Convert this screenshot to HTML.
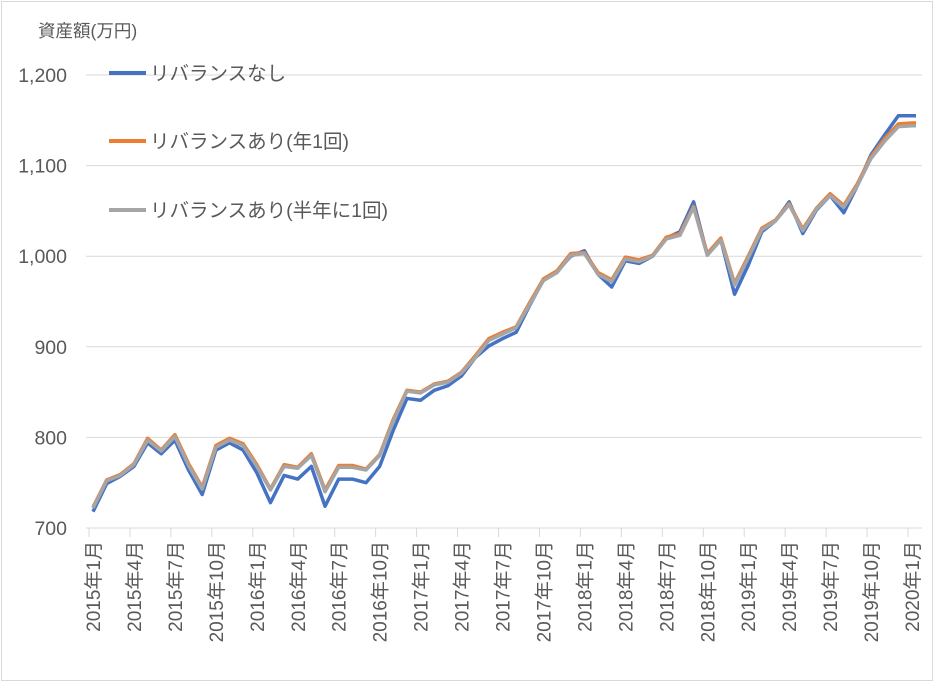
<!DOCTYPE html>
<html><head><meta charset="utf-8"><style>
body{margin:0;background:#fff;}
svg text{font-family:"Liberation Sans","Noto Sans CJK JP",sans-serif;fill:#595959;}
</style></head><body>
<svg id="chart" width="935" height="683" xmlns="http://www.w3.org/2000/svg">
<rect x="1.5" y="1.5" width="931" height="679" fill="#fff" stroke="#d9d9d9"/>
<text x="38" y="37" font-size="17.5">資産額(万円)</text>
<g id="grid"></g><g id="xaxis"></g><g id="series"></g>
<g>
<line x1="109" y1="73" x2="146" y2="73" stroke="#4472c4" stroke-width="4"/>
<text x="150" y="80" font-size="19.5">リバランスなし</text>
<line x1="109" y1="141" x2="146" y2="141" stroke="#ed7d31" stroke-width="4"/>
<text x="150" y="148" font-size="19.5">リバランスあり(年1回)</text>
<line x1="109" y1="210" x2="146" y2="210" stroke="#a5a5a5" stroke-width="4"/>
<text x="150" y="217" font-size="19.5">リバランスあり(半年に1回)</text>
</g>
</svg>
<script>
const yTicks=[700,800,900,1000,1100,1200];
const noRebal=[718,749,757,768,794,782,797,764,737,786,794,786,761,728,758,754,768,724,754,754,750,768,808,843,841,852,857,868,888,901,909,916,946,974,983,1000,1006,980,966,995,992,1000,1020,1027,1060,1002,1018,958,990,1027,1039,1060,1025,1051,1067,1048,1078,1112,1134,1155,1155];
const yearly=[723,753,759,771,799,786,803,771,745,791,799,793,770,743,770,767,782,742,769,769,765,781,820,852,850,859,862,872,890,909,916,922,949,975,984,1003,1004,982,974,999,996,1001,1021,1025,1055,1003,1020,970,1000,1031,1040,1058,1030,1053,1069,1056,1080,1110,1130,1146,1147];
const halfYearly=[722,752,758,770,797,785,801,769,743,789,797,791,768,742,768,766,780,740,767,767,764,780,818,851,849,858,861,871,888,907,914,921,947,973,982,1001,1003,980,972,997,994,1000,1019,1023,1054,1001,1018,968,998,1029,1039,1057,1028,1052,1067,1054,1078,1108,1127,1143,1144];
const svg=document.getElementById('chart');
const NS='http://www.w3.org/2000/svg';
const X0=93,X1=912,Y0=528,Y1=75;
const n=noRebal.length;
function xs(i){return X0+(X1-X0)*i/(n-1);}
function ys(v){return Y0-(v-700)/500*(Y0-Y1);}
function mk(t,a,p){const e=document.createElementNS(NS,t);for(const k in a)e.setAttribute(k,a[k]);p.appendChild(e);return e;}
const grid=document.getElementById('grid');
yTicks.forEach(v=>{
 const l=mk('line',{x1:86,x2:922,y1:ys(v),y2:ys(v),stroke:'#d9d9d9','stroke-width':1},grid);
 
 
 const t=mk('text',{x:67,y:ys(v)+7,'text-anchor':'end','font-size':19.5},grid);
 t.textContent=v.toLocaleString('en-US');
 
 
});
const xa=document.getElementById('xaxis');
for(let i=0;i<n;i+=3){
 const tk=mk('line',{x1:xs(i)-4,x2:xs(i)-4,y1:Y0,y2:Y0+9,stroke:'#d9d9d9'},xa);
 
 
 const y=2015+Math.floor(i/12),m=i%12+1;
 const t=mk('text',{transform:`translate(${xs(i)+7},541) rotate(-90)`,'text-anchor':'end','font-size':19},xa);
 t.textContent=y+'年'+m+'月';
 
 
}
const sg=document.getElementById('series');
[[noRebal,'#4472c4','line-no-rebalance'],[yearly,'#ed7d31','line-rebalance-yearly'],[halfYearly,'#a5a5a5','line-rebalance-halfyearly']].forEach(([d,c,nm])=>{
 const p=mk('polyline',{points:d.map((v,i)=>xs(i)+','+ys(v)).join(' ')+' '+(xs(n-1)+4)+','+ys(d[n-1]),fill:'none',stroke:c,'stroke-width':3.5,'stroke-linejoin':'round'},sg);
 
 
});
</script>
</body></html>
